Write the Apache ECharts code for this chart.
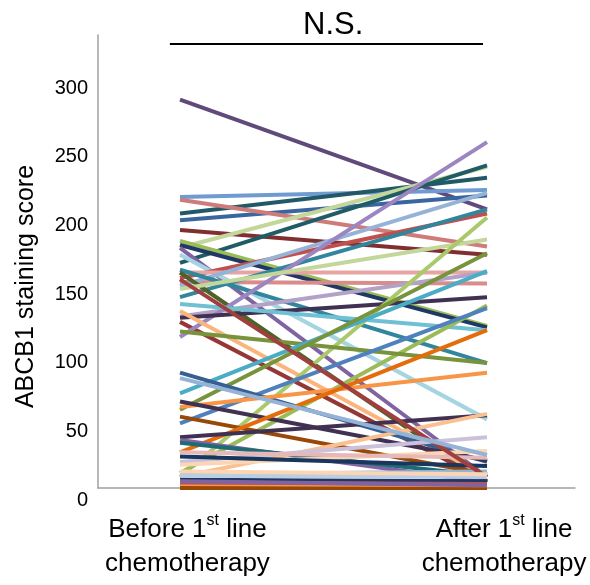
<!DOCTYPE html>
<html><head><meta charset="utf-8">
<script src="https://cdn.jsdelivr.net/npm/echarts@6/dist/echarts.min.js"></script>
<style>html,body{margin:0;padding:0;background:#fff}#c{width:590px;height:585px}</style>
</head><body><div id="c"></div>
<script>
// Category labels (rich text marks the superscript "st")
const categoryLabels = [
  '{a|Before 1}{s|st}{a| line}\n{a|chemotherapy}',
  '{a|After 1}{s|st}{a| line}\n{a|chemotherapy}'
];
const yAxisTitle = 'ABCB1 staining score';
const significance = 'N.S.';
const yTicks = [0, 50, 100, 150, 200, 250, 300];

// Paired ABCB1 scores per patient
const beforeScores = [283, 212, 200, 195, 210, 188, 175, 164, 180, 177, 175, 170, 153, 157, 150, 147, 159, 139, 157, 121, 125, 110, 124, 134, 129, 145, 8, 11, 114, 47, 69, 57, 84, 59, 63, 52, 26, 37, 35, 33, 8, 19, 17, 23, 10, 26, 152, 80, 2, 0, 3, 6, 4, 5, 9, 12];
const afterScores  = [203, 217, 226, 213, 176, 170, 234, 235, 118, 117, 8, 50, 200, 157, 149, 215, 91, 203, 4, 5, 157, 252, 139, 115, 8, 181, 197, 133, 91, 131, 158, 171, 19, 84, 20, 10, 115, 53, 4, 9, 54, 37, 27, 16, 12, 22, 8, 24, 1, 0, 2, 5, 3, 2, 8, 10];
const lineColors = ['#604a7b', '#6f9bd0', '#215968', '#3a66a0', '#d07b7b', '#7f2f2f', '#c4d79b', '#1f5c66', '#9bbb59', '#1f3864', '#8064a2', '#a5d5e2', '#c0504d', '#e6a5a4', '#d98c8a', '#95b3d7', '#31859c', '#31859c', '#4f6228', '#953735', '#b3a2c7', '#9c86c1', '#403152', '#6fc0d3', '#fab57d', '#c4d79b', '#a9c96b', '#9bbb59', '#77933c', '#4f81bd', '#4bacc6', '#77933c', '#366092', '#f79646', '#403152', '#984807', '#e46c0a', '#403152', '#8064a2', '#1f6b75', '#fac090', '#ccc1da', '#fcd5b5', '#17375e', '#95b3d7', '#e6b9b8', '#a0403e', '#95b3d7', '#e46c0a', '#984807', '#f79646', '#1f3864', '#c0504d', '#8064a2', '#b9cde5', '#fcd5b5'];
// N.S. bracket span (x in category units, y in score units)
const bracket = {x0: -0.033, x1: 0.987, y: 323.4};

const font = "'Liberation Sans', Arial, sans-serif";
const chart = echarts.init(document.getElementById('c'), null, {renderer: 'canvas'});

const series = beforeScores.map((b, i) => ({
  type: 'line',
  data: [[0, b], [1, afterScores[i]]],
  symbol: 'none',
  silent: true,
  lineStyle: {width: 4, color: lineColors[i % lineColors.length]},
  z: 2
}));
series.push({
  type: 'line',
  data: [],
  silent: true,
  markLine: {
    silent: true,
    symbol: 'none',
    label: {show: false},
    lineStyle: {color: '#000', width: 2, type: 'solid'},
    data: [[{coord: [bracket.x0, bracket.y]}, {coord: [bracket.x1, bracket.y]}]]
  }
});

chart.setOption({
  animation: false,
  backgroundColor: '#fff',
  title: {
    text: significance, left: 303, top: 10, padding: 0,
    textStyle: {fontFamily: font, fontSize: 31, fontWeight: 'normal', color: '#000'}
  },
  grid: {left: 98, right: 15, top: 35, bottom: 97, containLabel: false, outerBoundsMode: 'none'},
  xAxis: {
    type: 'value', min: -0.2671, max: 1.2866,
    splitLine: {show: false},
    axisTick: {show: false},
    axisLine: {show: true, onZero: true, lineStyle: {color: '#a0a0a0', width: 1.5}},
    axisLabel: {
      customValues: [0.0244, 1.0554],
      margin: 25,
      align: 'center',
      formatter: v => v < 0.5 ? categoryLabels[0] : categoryLabels[1],
      rich: {
        a: {fontFamily: font, fontSize: 26, lineHeight: 34, color: '#000'},
        s: {fontFamily: font, fontSize: 16, lineHeight: 12, verticalAlign: 'top', color: '#000'}
      }
    }
  },
  yAxis: {
    type: 'value', min: 0, max: 330, interval: 50,
    splitLine: {show: false},
    axisTick: {show: false},
    axisLine: {show: true, onZero: false, lineStyle: {color: '#a0a0a0', width: 1.5}},
    axisLabel: {
      showMaxLabel: false,
      margin: 10,
      fontFamily: font, fontSize: 20, color: '#000',
      verticalAlign: 'top',
      lineHeight: 24,
      formatter: v => yTicks.indexOf(v) >= 0 ? String(v) : ''
    },
    name: yAxisTitle,
    nameLocation: 'middle',
    nameRotate: 90,
    nameGap: 59,
    nameTextStyle: {fontFamily: font, fontSize: 25, color: '#000', padding: [0, 50, 0, 0]}
  },
  series: series
});
</script>
</body></html>
